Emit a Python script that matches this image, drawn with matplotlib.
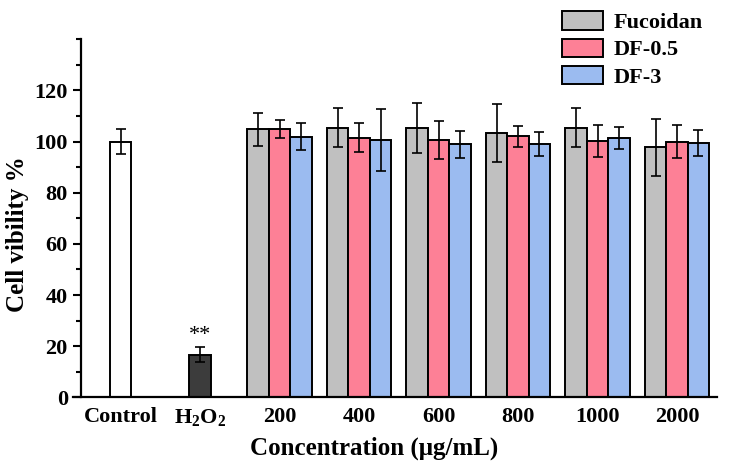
import numpy as np
import matplotlib
matplotlib.use('Agg')
import matplotlib.pyplot as plt
from matplotlib.patches import Patch
from matplotlib.ticker import MultipleLocator

plt.rcParams['font.family'] = 'Liberation Serif'
plt.rcParams['font.weight'] = 'bold'
plt.rcParams['mathtext.fontset'] = 'custom'
plt.rcParams['mathtext.rm'] = 'Liberation Serif:bold'
plt.rcParams['mathtext.bf'] = 'Liberation Serif:bold'

# data
tick_labels = ['Control', r'H$_\mathbf{2}$O$_\mathbf{2}$', '200', '400', '600', '800', '1000', '2000']
control_mean, control_err = 100.0, 4.8
h2o2_mean, h2o2_err = 16.7, 3.0

series_names = ['Fucoidan', 'DF-0.5', 'DF-3']
fucoidan = [104.8, 105.5, 105.4, 103.4, 105.5, 97.7]
fucoidan_err = [6.5, 7.5, 9.8, 11.2, 7.8, 11.0]
df05 = [104.8, 101.5, 100.7, 102.0, 100.3, 100.0]
df05_err = [3.5, 5.7, 7.5, 4.0, 6.3, 6.5]
df3 = [101.9, 100.7, 99.0, 99.1, 101.3, 99.4]
df3_err = [5.2, 12.2, 5.3, 4.8, 4.3, 5.2]

colors = ['#c0c0c0', '#fd8096', '#9bbbf0']

fig = plt.figure(figsize=(7.3, 4.66), dpi=100)
ax = fig.add_axes([0.1, 0.1474, 0.8818, 0.7683])

w = 0.27
err_kw = dict(ecolor='black', elinewidth=1.2, capsize=3.5, capthick=1.2)
ax.bar(0, control_mean, w, yerr=control_err, color='white', edgecolor='black', linewidth=1.4, error_kw=err_kw)
ax.bar(1, h2o2_mean, w, yerr=h2o2_err, color='#3c3c3c', edgecolor='black', linewidth=1.4, error_kw=err_kw)
ax.text(1, 20.5, '**', ha='center', va='bottom', fontsize=16, fontweight='normal')

x = np.arange(2, 8)
groups = [(fucoidan, fucoidan_err), (df05, df05_err), (df3, df3_err)]
for i, (vals, errs) in enumerate(groups):
    ax.bar(x + (i - 1) * w, vals, w, yerr=errs, color=colors[i], edgecolor='black',
           linewidth=1.4, error_kw=err_kw)

ax.set_xlim(-0.6, 7.5)
ax.set_ylim(0, 140)
ax.set_xticks(range(8))
ax.set_xticklabels(tick_labels)
ax.tick_params(axis='x', length=0, labelsize=16, pad=7)
ax.yaxis.set_major_locator(MultipleLocator(20))
ax.yaxis.set_minor_locator(MultipleLocator(10))
ax.set_yticks(range(0, 121, 20))
ax.tick_params(axis='y', which='major', length=6, width=1.5, labelsize=16)
ax.tick_params(axis='y', which='minor', length=3.5, width=1.5)

for s in ['top', 'right']:
    ax.spines[s].set_visible(False)
ax.spines['left'].set_position(('data', -0.5))
ax.spines['left'].set_linewidth(1.6)
ax.spines['bottom'].set_linewidth(1.6)

ax.set_ylabel('Cell vibility %', fontsize=18, fontweight='bold', labelpad=4)
ax.set_xlabel('Concentration (μg/mL)', fontsize=18, fontweight='bold', labelpad=6)
ax.xaxis.label.set_x(0.468)
ax.yaxis.label.set_y(0.455)

handles = [Patch(facecolor=c, edgecolor='black', linewidth=1.4) for c in colors]
ax.legend(handles, series_names, loc='upper left', bbox_to_anchor=(0.735, 1.122), frameon=False,
          fontsize=16, handlelength=1.87, handleheight=0.9, labelspacing=0.25, handletextpad=0.48,
          borderpad=0.2)

fig.savefig('out.png', dpi=100)
